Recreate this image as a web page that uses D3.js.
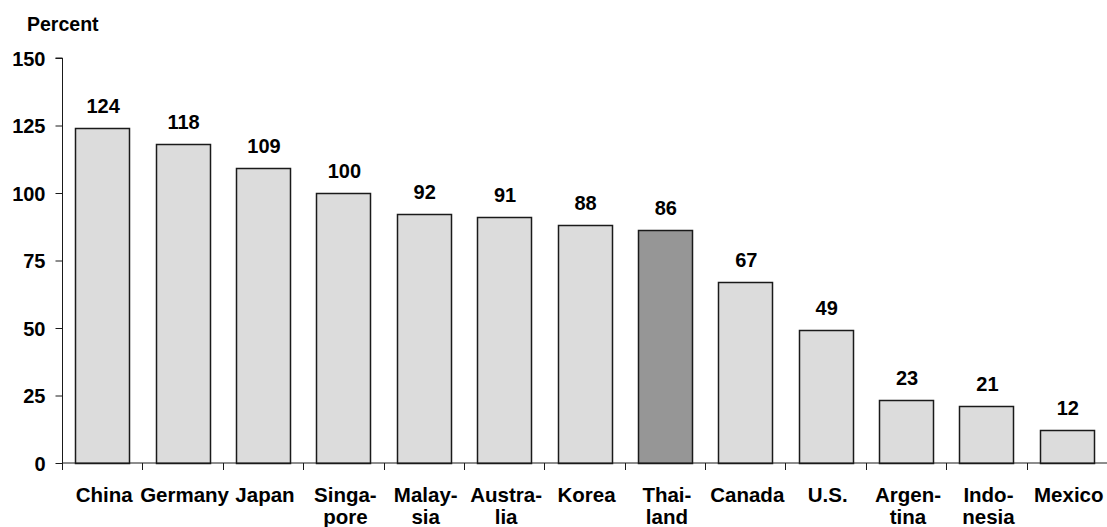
<!DOCTYPE html>
<html>
<head>
<meta charset="utf-8">
<script src="https://cdn.jsdelivr.net/npm/d3@7"></script>
<style>
  html, body { margin: 0; padding: 0; background: #fff; }
  svg text { font-family: Arial, "Liberation Sans", sans-serif; font-weight: bold; fill: #000; }
</style>
</head>
<body>
<svg id="chart" width="1107" height="527"></svg>
<script>
const categories = [["China"], ["Germany"], ["Japan"], ["Singa-", "pore"], ["Malay-", "sia"], ["Austra-", "lia"], ["Korea"], ["Thai-", "land"], ["Canada"], ["U.S."], ["Argen-", "tina"], ["Indo-", "nesia"], ["Mexico"]];
const values = [124, 118, 109, 100, 92, 91, 88, 86, 67, 49, 23, 21, 12];
const highlighted = ["Thai-"];
const yTicks = [0, 25, 50, 75, 100, 125, 150];
const yTitle = "Percent";

const svg = d3.select("#chart");
const margin = { left: 62, right: 0, top: 57.5, bottom: 64.5 };
const W = 1107, H = 527;

const keys = categories.map(c => c.join(""));
const x = d3.scaleBand().domain(keys).range([margin.left, W - margin.right]).padding(0);
const y = d3.scaleLinear().domain([0, 150]).range([H - margin.bottom, margin.top]);

const barW = x.bandwidth() * 0.67;

// bars
svg.append("g").selectAll("rect")
  .data(values)
  .join("rect")
  .attr("x", (d, i) => Math.round(x(keys[i]) + x.bandwidth() / 2 - barW / 2) + 0.5)
  .attr("y", d => Math.round(y(d)) + 0.5)
  .attr("width", Math.round(barW))
  .attr("height", d => Math.round(y(0)) - Math.round(y(d)))
  .attr("fill", (d, i) => highlighted.includes(categories[i][0]) ? "#969696" : "#dcdcdc")
  .attr("stroke", "#1a1a1a")
  .attr("stroke-width", 1.5);

// value labels
svg.append("g").selectAll("text")
  .data(values)
  .join("text")
  .attr("x", (d, i) => x(keys[i]) + x.bandwidth() / 2 + 1)
  .attr("y", d => y(d) - 15)
  .attr("text-anchor", "middle")
  .style("font-size", "20px")
  .text(d => d);

// y axis
const yAxis = d3.axisLeft(y).tickValues(yTicks).tickSize(7).tickPadding(10);
const gy = svg.append("g").attr("transform", `translate(${margin.left + 0.5},0.5)`).call(yAxis);
gy.select(".domain").attr("stroke", "#1a1a1a").attr("d", `M-7,${y(150)}H0V${y(0)}`);
gy.selectAll(".tick line").attr("stroke", "#1a1a1a");
gy.selectAll(".tick text").style("font-size", "20px").attr("font-family", null).attr("fill", "#000").attr("dy", "0.35em");

// x axis
const gx = svg.append("g").attr("transform", `translate(0,${y(0) + 0.5})`);
gx.append("line").attr("x1", margin.left).attr("x2", W).attr("y1", 0).attr("y2", 0).attr("stroke", "#1a1a1a");
gx.selectAll("line.tk")
  .data(keys)
  .join("line")
  .attr("class", "tk")
  .attr("x1", d => Math.round(x(d)) + 0.5)
  .attr("x2", d => Math.round(x(d)) + 0.5)
  .attr("y1", 0).attr("y2", 7)
  .attr("stroke", "#1a1a1a");

// category labels, one text element per line
const lineData = [];
categories.forEach((c, i) => c.forEach((t, j) => lineData.push({ t, i, j })));
gx.selectAll("text.cat")
  .data(lineData)
  .join("text")
  .attr("class", "cat")
  .attr("text-anchor", "middle")
  .style("font-size", "20.5px")
  .attr("x", d => x(keys[d.i]) + x.bandwidth() / 2 + 2)
  .attr("y", d => 39 + d.j * 22)
  .text(d => d.t);

// y title
svg.append("text")
  .attr("x", 27)
  .attr("y", 31)
  .style("font-size", "19.5px")
  .text(yTitle);
</script>
</body>
</html>
